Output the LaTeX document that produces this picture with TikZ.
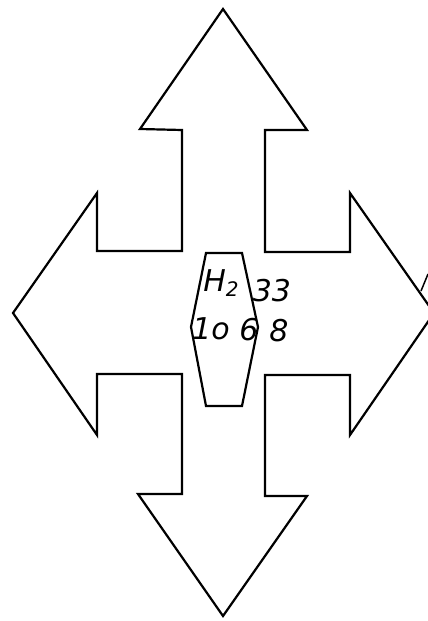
\documentclass[tikz,border=0pt]{standalone}
\usepackage{fontspec}
\setsansfont{DejaVu Sans}
\begin{document}
\begin{tikzpicture}[x=1pt,y=-1pt,
  outline/.style={draw=black,line width=2.2pt,line join=miter},
  hand/.style={font=\sffamily\itshape\fontsize{30}{30}\selectfont,inner sep=0pt}]
\useasboundingbox (0,0) rectangle (428,621);
\clip (0,0) rectangle (428,621);
\fill[white] (0,0) rectangle (428,621);
% four-way arrow outline
\draw[outline] (223,9) -- (307,130) -- (265,130) -- (265,252) -- (350,252) -- (350,193)
  -- (434,313) -- (350,435) -- (350,375) -- (265,375) -- (265,496) -- (307,496)
  -- (223,616) -- (138,494) -- (182,494) -- (182,374) -- (97,374) -- (97,435)
  -- (13,313) -- (97,193) -- (97,251) -- (182,251) -- (182,130) -- (140,129) -- cycle;
% central hexagon
\draw[outline] (206,253) -- (242,253) -- (258,327) -- (242,406) -- (206,406) -- (191,327) -- cycle;
% handwritten labels
\node[hand] (h2) at (221,283) {H{\fontsize{20}{20}\selectfont\raisebox{-5pt}{2}}};
\node[hand] (t33) at (272,291) {33};
\node[hand] (t10) at (211,329) {1o};
\node[hand] (t6) at (249,330) {6};
\node[hand] (t8) at (279,331) {8};
% cut-off stroke at right edge
\coordinate (s1) at (421,291);
\coordinate (s2) at (428,274);
\draw[line width=1.5pt] (s1) -- (s2);
\end{tikzpicture}
\end{document}
